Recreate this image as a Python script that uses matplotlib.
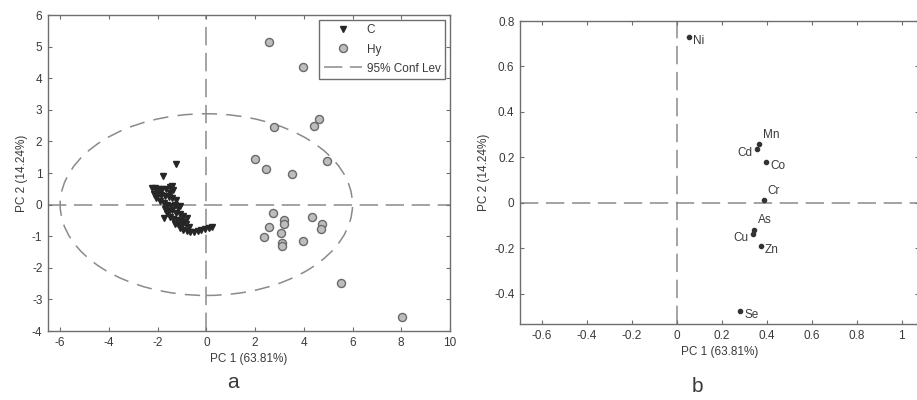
import matplotlib.pyplot as plt
from matplotlib.patches import Ellipse
from matplotlib.lines import Line2D

plt.rcParams['font.family'] = ['Liberation Sans', 'DejaVu Sans']
plt.rcParams['axes.unicode_minus'] = False

# --- panel a: PCA scores ---
c_x = [-1.26, -1.78, -1.40, -2.23, -2.10, -1.95, -1.80, -1.65, -1.50, -1.35,
       -2.15, -2.00, -1.85, -1.70, -1.55, -1.40, -1.25, -1.90, -1.75, -1.60,
       -1.45, -1.30, -1.15, -1.70, -1.55, -1.40, -1.25, -1.10, -0.95, -1.72,
       -1.50, -1.35, -1.20, -1.05, -0.90, -1.30, -1.15, -1.00, -0.85, -0.70,
       -1.10, -0.95, -0.80, -0.65, -0.50, -0.35, -0.20, -0.05, 0.10, 0.22,
       -2.05, -1.62, -1.08, -0.78, -1.95, -1.48]
c_y = [1.27, 0.90, 0.59, 0.54, 0.52, 0.50, 0.48, 0.50, 0.55, 0.45,
       0.35, 0.32, 0.30, 0.28, 0.25, 0.20, 0.15, 0.10, 0.05, 0.00,
       -0.05, -0.02, -0.10, -0.15, -0.20, -0.18, -0.25, -0.30, -0.35, -0.41,
       -0.40, -0.45, -0.50, -0.48, -0.55, -0.62, -0.60, -0.65, -0.62, -0.70,
       -0.75, -0.80, -0.85, -0.88, -0.86, -0.84, -0.80, -0.78, -0.75, -0.72,
       0.22, -0.28, -0.05, -0.42, 0.40, 0.38]

hy_x = [2.56, 3.98, 4.62, 4.40, 2.77, 2.00, 4.95, 2.46, 3.53, 2.72, 4.33,
        3.17, 3.20, 2.57, 4.73, 4.70, 3.08, 2.38, 3.97, 3.10, 3.10, 5.54, 8.04]
hy_y = [5.13, 4.36, 2.70, 2.48, 2.45, 1.43, 1.37, 1.12, 0.97, -0.26, -0.40,
        -0.50, -0.62, -0.72, -0.61, -0.78, -0.90, -1.04, -1.15, -1.23, -1.32,
        -2.48, -3.57]

# 95% confidence ellipse (full axes)
ell_w = 12.0
ell_h = 5.75

# --- panel b: loadings ---
elements = ['Ni', 'Mn', 'Cd', 'Co', 'Cr', 'As', 'Cu', 'Zn', 'Se']
load_x = [0.053, 0.366, 0.357, 0.397, 0.386, 0.343, 0.337, 0.373, 0.281]
load_y = [0.731, 0.258, 0.236, 0.178, 0.012, -0.120, -0.138, -0.191, -0.476]

txt = '#3a3a3a'
spine = '#6e6e6e'
dash = '#8a8a8a'
dash_ls = (0, (12, 5))

fig = plt.figure(figsize=(9.17, 4.0), dpi=100)
ax1 = fig.add_axes([0.0523, 0.1725, 0.4384, 0.79])
ax2 = fig.add_axes([0.567, 0.19, 0.435, 0.7575])

for ax in (ax1, ax2):
    ax.tick_params(direction='in', top=True, right=True, length=3, width=0.8,
                   colors=spine, labelcolor=txt, labelsize=8.5, pad=4)
    for s in ax.spines.values():
        s.set_color(spine)
        s.set_linewidth(1.0)
    ax.axhline(0, color=dash, lw=1.1, ls=dash_ls, zorder=1)
    ax.axvline(0, color=dash, lw=1.1, ls=dash_ls, zorder=1)
    ax.set_xlabel('PC 1 (63.81%)', color=txt, fontsize=8.5, labelpad=3)
    ax.set_ylabel('PC 2 (14.24%)', color=txt, fontsize=8.5, labelpad=3)

ax1.add_patch(Ellipse((0, 0), ell_w, ell_h, fill=False, ec=dash, lw=1.1,
                      ls=(0, (10, 6)), zorder=1))
ax1.plot(c_x, c_y, 'v', color='#262626', ms=5, mec='#262626', zorder=3)
ax1.plot(hy_x, hy_y, 'o', mfc='#bdbdbd', mec='#6a6a6a', mew=1.0, ms=5.8, zorder=3)
ax1.set_xlim(-6.5, 10)
ax1.set_ylim(-4, 6)
ax1.set_xticks(range(-6, 11, 2))
ax1.set_yticks(range(-4, 7))

handles = [Line2D([], [], marker='v', ls='none', color='#262626', ms=5),
           Line2D([], [], marker='o', ls='none', mfc='#bdbdbd', mec='#6a6a6a', ms=5.8),
           Line2D([], [], color=dash, lw=1.1, ls=dash_ls)]
leg = ax1.legend(handles, ['C', 'Hy', '95% Conf Lev'], loc='upper right',
                 fontsize=8.5, fancybox=False, framealpha=1, edgecolor=spine,
                 borderaxespad=0.4, handlelength=3.2, handletextpad=0.4,
                 labelspacing=0.6, borderpad=0.4)
leg.get_frame().set_linewidth(1.0)
for t in leg.get_texts():
    t.set_color(txt)

ax2.plot(load_x, load_y, 'o', color='#333333', ms=3, zorder=3)
offsets = {'Ni': (3, -3), 'Mn': (3, 2), 'Cd': (-3, -3), 'Co': (3, -3),
           'Cr': (3, 2), 'As': (3, 3), 'Cu': (-3, -3), 'Zn': (3, -3),
           'Se': (3, -3)}
for name, x, y in zip(elements, load_x, load_y):
    dx, dy = offsets[name]
    ax2.annotate(name, (x, y), xytext=(dx, dy), textcoords='offset points',
                 ha='left' if dx > 0 else 'right', va='center' if dy < 0 else 'bottom',
                 fontsize=8.5, color=txt)
ax2.set_xlim(-0.696, 1.0757)
ax2.set_ylim(-0.534, 0.8)
ax2.set_xticks([-0.6, -0.4, -0.2, 0, 0.2, 0.4, 0.6, 0.8, 1])
ax2.set_xticklabels(['-0.6', '-0.4', '-0.2', '0', '0.2', '0.4', '0.6', '0.8', '1'])
ax2.set_yticks([-0.4, -0.2, 0, 0.2, 0.4, 0.6, 0.8])
ax2.set_yticklabels(['-0.4', '-0.2', '0', '0.2', '0.4', '0.6', '0.8'])

fig.text(233 / 917, 1 - 383 / 400, 'a', fontsize=15, color=txt, ha='center', va='center')
fig.text(697 / 917, 1 - 387 / 400, 'b', fontsize=15, color=txt, ha='center', va='center')

fig.savefig('out.png', dpi=100)
